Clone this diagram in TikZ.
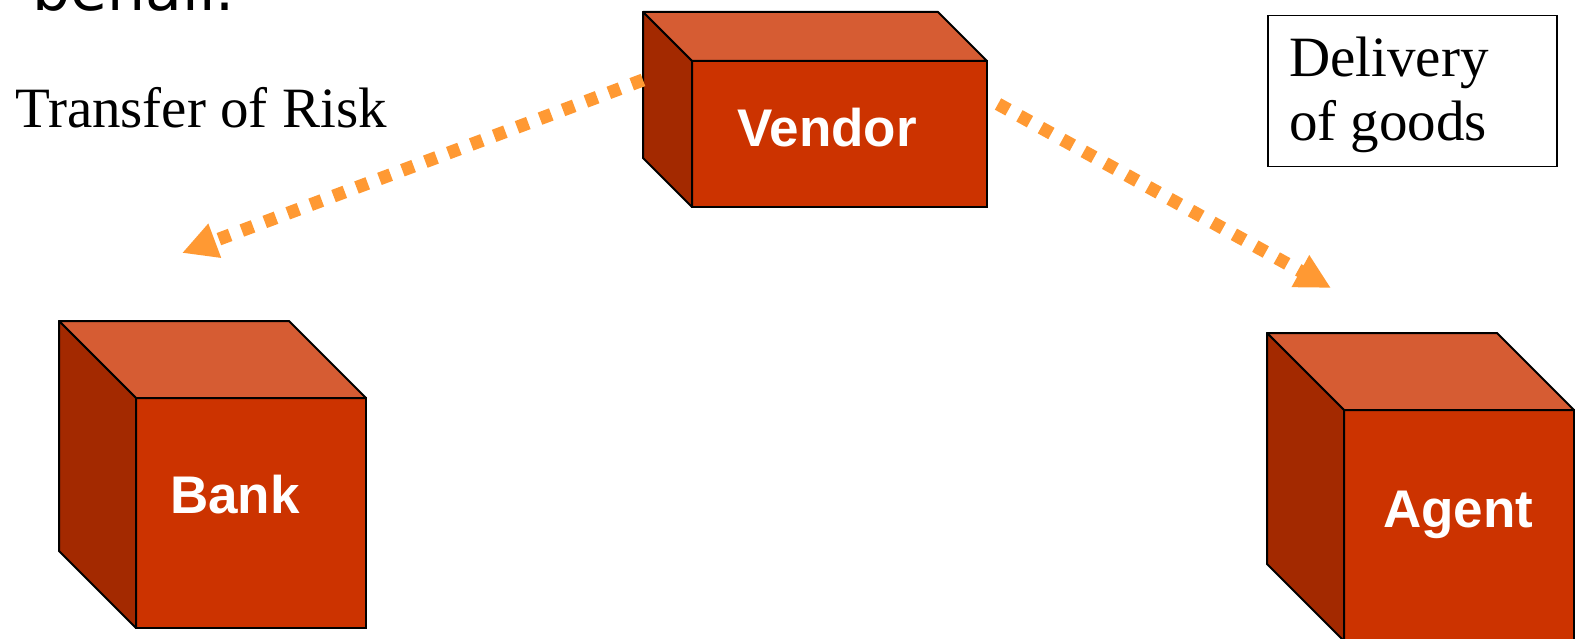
\documentclass[tikz,border=0pt]{standalone}
\usepackage{fontspec}
\setmainfont{Liberation Serif}
\newfontfamily\boxfont{Liberation Sans}
\newfontfamily\headfont{DejaVu Sans}
\usetikzlibrary{arrows.meta,calc}
\definecolor{cubefront}{HTML}{CC3300}
\definecolor{cubetop}{HTML}{D65C33}
\definecolor{cubeside}{HTML}{A32900}
\definecolor{flow}{HTML}{FF9933}

% top and left faces of a box whose front face is node #1, depth #2
\newcommand\cubeshell[2]{%
  \path[topface] (#1.north west) -- ++(-#2,-#2) -- ($(#1.north east)+(-#2,-#2)$) -- (#1.north east) -- cycle;
  \path[sideface] (#1.north west) -- ++(-#2,-#2) -- ($(#1.south west)+(-#2,-#2)$) -- (#1.south west) -- cycle;}

\begin{document}
\begin{tikzpicture}[x=1pt,y=-1pt,
  front/.style={draw=black, fill=cubefront, line width=2pt, inner sep=0pt, outer sep=0pt, anchor=north west},
  topface/.style={draw=black, fill=cubetop, line width=2pt, line join=round},
  sideface/.style={draw=black, fill=cubeside, line width=2pt, line join=round},
  cubelabel/.style={text=white, font=\boxfont\bfseries\fontsize{53}{60}\selectfont, inner sep=0pt, anchor=base west},
  caption/.style={font=\fontsize{57}{64}\selectfont, inner sep=0pt, align=left},
  flowline/.style={draw=flow, line width=13pt, dash pattern=on 12pt off 12.5pt,
                   -{Triangle[length=35pt,width=34pt]}},
]
\useasboundingbox (0,0) rectangle (1579,639);

% heading line running off the top edge
\node[font=\headfont\fontsize{60}{70}\selectfont, inner sep=0pt, anchor=base west] (heading) at (32,11) {behalf.};

% boxes
\node[front, minimum width=295pt, minimum height=146pt] (vendor) at (692,61) {};
\cubeshell{vendor}{49}
\node[front, minimum width=230pt, minimum height=230pt] (bank) at (136,398) {};
\cubeshell{bank}{77}
\node[front, minimum width=230pt, minimum height=231pt] (agent) at (1344,410) {};
\cubeshell{agent}{77}

\node[cubelabel] (vendorlabel) at (737,147) {Vendor};
\node[cubelabel] (banklabel) at (170,513) {Bank};
\node[cubelabel] (agentlabel) at (1383,527) {Agent};

% captions
\node[caption, anchor=base west] (risk) at (15,128) {Transfer of Risk};
\node[draw=black, line width=1.5pt, inner sep=0pt, anchor=north west,
      minimum width=289pt, minimum height=151pt] (delivery) at (1267,15) {};
\node[caption, anchor=north west] (deliverytext) at (1289,37) {Delivery\\of goods};

% flows
\coordinate (riskend) at (182,253);
\coordinate (goodsend) at (1331,288);
\draw[flowline] ($(vendor.north west)+(-49,19)$) -- (riskend);
\draw[flowline] ($(vendor.north east)+(11,43)$) -- (goodsend);
\end{tikzpicture}
\end{document}
